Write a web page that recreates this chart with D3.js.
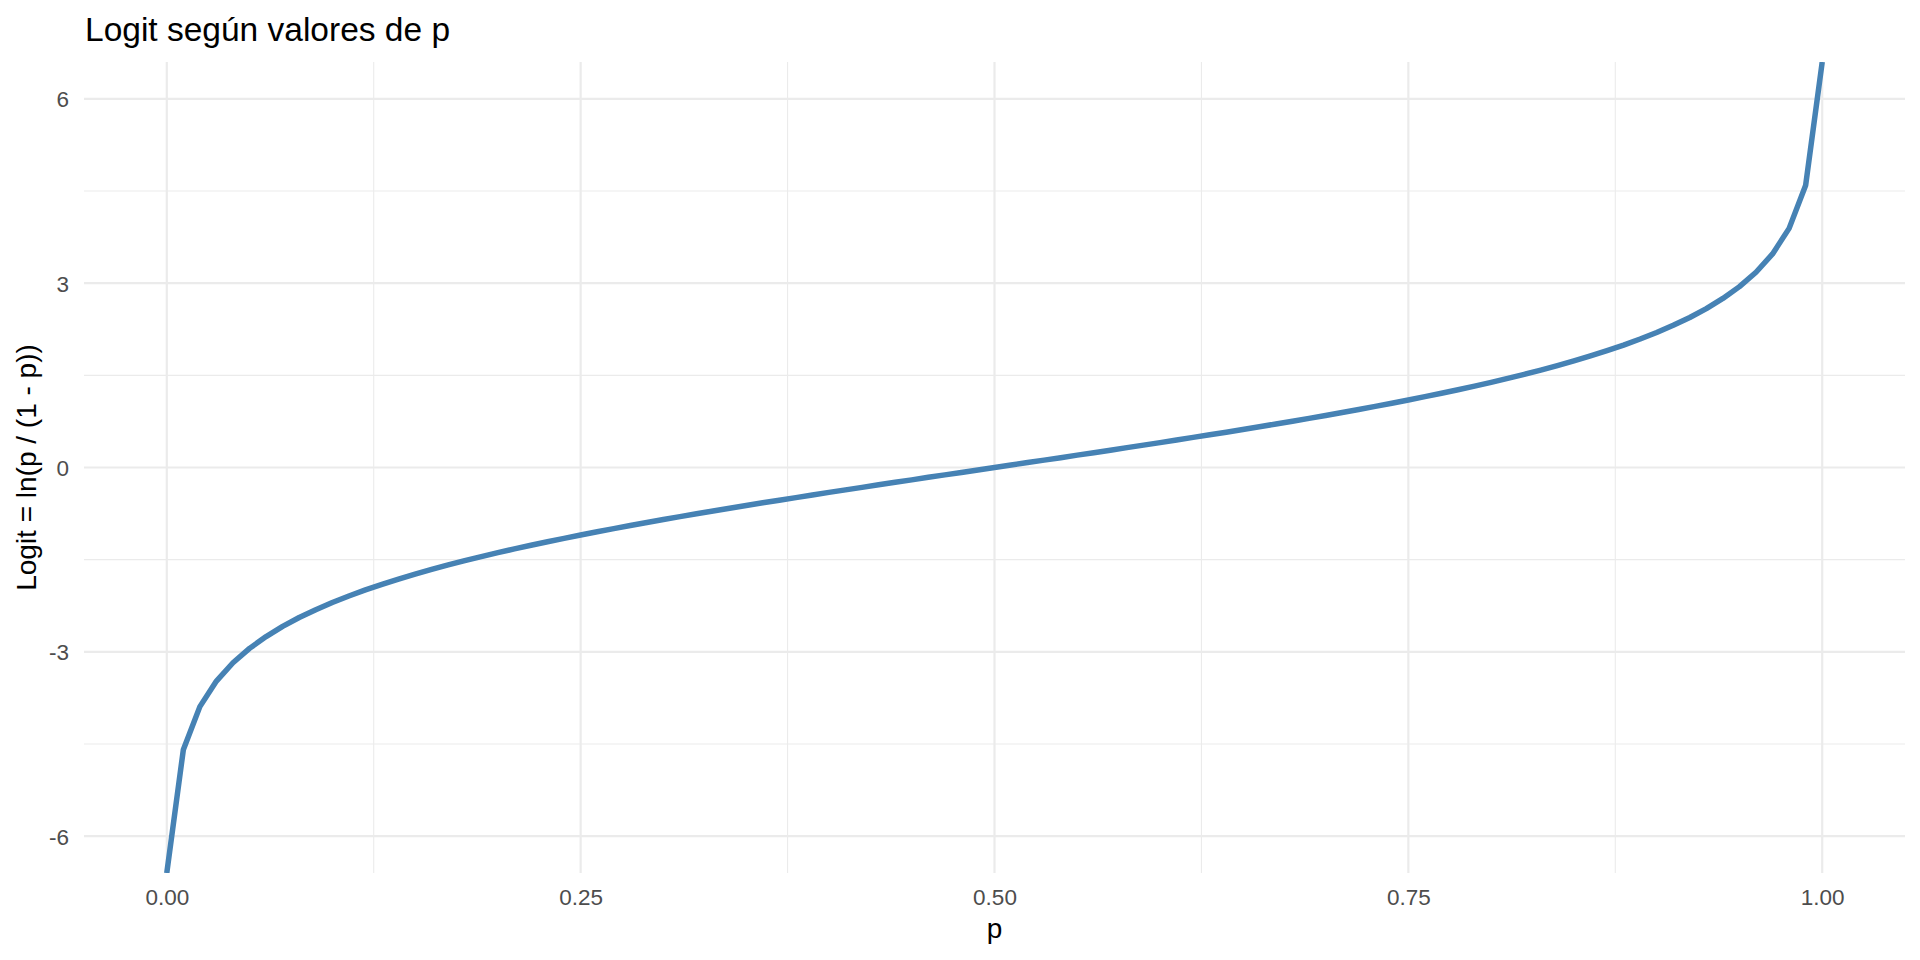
<!DOCTYPE html>
<html>
<head>
<meta charset="utf-8">
<script src="https://cdn.jsdelivr.net/npm/d3@7/dist/d3.min.js"></script>
<style>
  html, body { margin: 0; padding: 0; background: #ffffff; }
  svg { display: block; font-family: "Liberation Sans", Arial, sans-serif; }
</style>
</head>
<body>
<script>
// ---- Data ----
const pValues = [
  0.00, 0.01, 0.02, 0.03, 0.04, 0.05, 0.06, 0.07, 0.08, 0.09,
  0.10, 0.11, 0.12, 0.13, 0.14, 0.15, 0.16, 0.17, 0.18, 0.19,
  0.20, 0.21, 0.22, 0.23, 0.24, 0.25, 0.26, 0.27, 0.28, 0.29,
  0.30, 0.31, 0.32, 0.33, 0.34, 0.35, 0.36, 0.37, 0.38, 0.39,
  0.40, 0.41, 0.42, 0.43, 0.44, 0.45, 0.46, 0.47, 0.48, 0.49,
  0.50, 0.51, 0.52, 0.53, 0.54, 0.55, 0.56, 0.57, 0.58, 0.59,
  0.60, 0.61, 0.62, 0.63, 0.64, 0.65, 0.66, 0.67, 0.68, 0.69,
  0.70, 0.71, 0.72, 0.73, 0.74, 0.75, 0.76, 0.77, 0.78, 0.79,
  0.80, 0.81, 0.82, 0.83, 0.84, 0.85, 0.86, 0.87, 0.88, 0.89,
  0.90, 0.91, 0.92, 0.93, 0.94, 0.95, 0.96, 0.97, 0.98, 0.99,
  1.00
];
const logitValues = [
  -Infinity, -4.595, -3.892, -3.476, -3.178, -2.944, -2.752, -2.587, -2.442, -2.314,
  -2.197, -2.091, -1.992, -1.901, -1.815, -1.735, -1.658, -1.586, -1.516, -1.450,
  -1.386, -1.325, -1.266, -1.208, -1.153, -1.099, -1.046, -0.995, -0.944, -0.895,
  -0.847, -0.800, -0.754, -0.708, -0.663, -0.619, -0.575, -0.532, -0.490, -0.447,
  -0.405, -0.364, -0.323, -0.282, -0.241, -0.201, -0.160, -0.120, -0.080, -0.040,
  0.000, 0.040, 0.080, 0.120, 0.160, 0.201, 0.241, 0.282, 0.323, 0.364,
  0.405, 0.447, 0.490, 0.532, 0.575, 0.619, 0.663, 0.708, 0.754, 0.800,
  0.847, 0.895, 0.944, 0.995, 1.046, 1.099, 1.153, 1.208, 1.266, 1.325,
  1.386, 1.450, 1.516, 1.586, 1.658, 1.735, 1.815, 1.901, 1.992, 2.091,
  2.197, 2.314, 2.442, 2.587, 2.752, 2.944, 3.178, 3.476, 3.892, 4.595,
  Infinity
];
const xTicks = [0, 0.25, 0.5, 0.75, 1];
const xTickLabels = ["0.00", "0.25", "0.50", "0.75", "1.00"];
const xMinorTicks = [0.125, 0.375, 0.625, 0.875];
const yTicks = [-6, -3, 0, 3, 6];
const yTickLabels = ["-6", "-3", "0", "3", "6"];
const yMinorTicks = [-4.5, -1.5, 1.5, 4.5];
const titleText = "Logit según valores de p";
const xTitle = "p";
const yTitle = "Logit = ln(p / (1 - p))";

// ---- Layout ----
const W = 1920, H = 960;
const panel = { left: 84, right: 1905, top: 62, bottom: 873 };

const svg = d3.select("body").append("svg").attr("width", W).attr("height", H);

const x = d3.scaleLinear().domain([-0.05, 1.05]).range([panel.left, panel.right]);
const y = d3.scaleLinear().domain([-6.6, 6.6]).range([panel.bottom, panel.top]).clamp(true);

const grid = svg.append("g");
// minor grid
grid.selectAll(".xminor").data(xMinorTicks).join("line")
  .attr("x1", d => x(d)).attr("x2", d => x(d))
  .attr("y1", panel.top).attr("y2", panel.bottom)
  .attr("stroke", "#ebebeb").attr("stroke-width", 1.1);
grid.selectAll(".yminor").data(yMinorTicks).join("line")
  .attr("y1", d => y(d)).attr("y2", d => y(d))
  .attr("x1", panel.left).attr("x2", panel.right)
  .attr("stroke", "#ebebeb").attr("stroke-width", 1.1);
// major grid
grid.selectAll(".xmajor").data(xTicks).join("line")
  .attr("x1", d => x(d)).attr("x2", d => x(d))
  .attr("y1", panel.top).attr("y2", panel.bottom)
  .attr("stroke", "#ebebeb").attr("stroke-width", 2.2);
grid.selectAll(".ymajor").data(yTicks).join("line")
  .attr("y1", d => y(d)).attr("y2", d => y(d))
  .attr("x1", panel.left).attr("x2", panel.right)
  .attr("stroke", "#ebebeb").attr("stroke-width", 2.2);

// clip
svg.append("clipPath").attr("id", "panelClip").append("rect")
  .attr("x", panel.left).attr("y", panel.top)
  .attr("width", panel.right - panel.left).attr("height", panel.bottom - panel.top);

const data = pValues.map((p, i) => ({ p, v: logitValues[i] }));
const line = d3.line().x(d => x(d.p)).y(d => y(d.v));
svg.append("path").datum(data)
  .attr("clip-path", "url(#panelClip)")
  .attr("d", line)
  .attr("fill", "none")
  .attr("stroke", "#4682b4")
  .attr("stroke-width", 5.5)
  .attr("stroke-linejoin", "round");

// axes
const xAxis = d3.axisBottom(x).tickValues(xTicks).tickFormat((d, i) => xTickLabels[i]).tickSize(0).tickPadding(0);
const gx = svg.append("g").attr("transform", `translate(0,${panel.bottom})`).call(xAxis);
gx.select(".domain").remove();
gx.selectAll("text").attr("y", 32).attr("dy", 0)
  .attr("fill", "#4d4d4d").style("font-size", "22.5px")
  .style("font-family", "'Liberation Sans', Arial, sans-serif");

const yAxis = d3.axisLeft(y).tickValues(yTicks).tickFormat((d, i) => yTickLabels[i]).tickSize(0).tickPadding(0);
const gy = svg.append("g").attr("transform", `translate(${panel.left},0)`).call(yAxis);
gy.select(".domain").remove();
gy.selectAll("text").attr("x", -15).attr("dy", "0.36em")
  .attr("fill", "#4d4d4d").style("font-size", "22.5px")
  .style("font-family", "'Liberation Sans', Arial, sans-serif");

// titles
svg.append("text").attr("x", 85).attr("y", 41)
  .attr("fill", "#000").style("font-size", "33.5px").text(titleText);

svg.append("text").attr("x", (panel.left + panel.right) / 2).attr("y", 938)
  .attr("text-anchor", "middle").attr("fill", "#000").style("font-size", "28px").text(xTitle);

svg.append("text")
  .attr("transform", `translate(36,${(panel.top + panel.bottom) / 2}) rotate(-90)`)
  .attr("text-anchor", "middle").attr("fill", "#000").style("font-size", "28px").text(yTitle);
</script>
</body>
</html>
